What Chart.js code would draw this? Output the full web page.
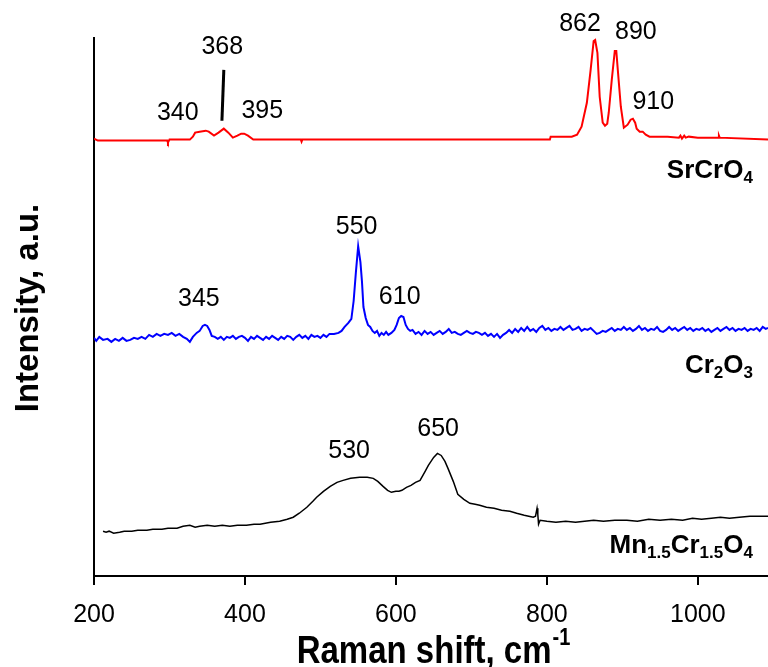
<!DOCTYPE html>
<html>
<head>
<meta charset="utf-8">
<script src="https://cdn.jsdelivr.net/npm/chart.js@4.4.0/dist/chart.umd.min.js"></script>
<style>
  body { margin: 0; background: #fff; }
  #wrap { width: 768px; height: 667px; }
</style>
</head>
<body>
<div id="wrap"><canvas id="ramanChart"></canvas></div>
<script>
// x = Raman shift (cm-1), y = intensity, a.u. (offset spectra)
var srX = [200, 205, 260, 297, 298, 300, 327, 331, 334, 340, 348, 352, 359, 365, 372, 378, 384, 390, 395, 399, 404, 411, 474, 475, 476, 560, 700, 804, 805, 833, 840, 846, 853, 858, 862, 864, 867, 870, 874, 877, 880, 882, 886, 890, 892, 894, 898, 902, 907, 911, 914, 917, 919, 923, 927, 931, 936, 960, 975, 977, 979, 982, 984, 988, 1000, 1027, 1028, 1029, 1093];
var srY = [439, 437, 437, 437, 435, 438, 438, 441, 445, 446, 447, 446, 442, 445, 449, 445, 440, 442, 444, 444, 442, 438, 438, 436, 438, 438, 438, 438, 441, 441, 443, 451, 475, 508, 537, 538, 525, 481, 455, 452, 454, 465, 498, 527, 527, 508, 471, 450, 453, 458, 459, 455, 449, 446, 446, 443, 441, 441, 440, 442, 439, 442, 440, 441, 440, 440, 442, 440, 438];

var crX = [200, 203, 207, 212, 218, 223, 228, 233, 238, 243, 248, 253, 258, 263, 268, 273, 278, 283, 288, 293, 298, 303, 308, 313, 318, 323, 327, 331, 336, 340, 344, 347, 350, 353, 356, 360, 364, 368, 372, 376, 380, 384, 388, 392, 396, 400, 404, 408, 412, 416, 420, 424, 428, 432, 436, 440, 444, 448, 452, 456, 460, 464, 468, 472, 476, 480, 484, 488, 492, 496, 500, 504, 508, 512, 518, 524, 528, 532, 537, 541, 544, 547, 550, 553, 555, 557, 560, 563, 566, 569, 572, 575, 578, 581, 584, 587, 590, 594, 598, 601, 604, 607, 610, 613, 616, 619, 622, 626, 630, 634, 638, 642, 646, 650, 654, 658, 662, 666, 670, 674, 678, 682, 686, 690, 694, 698, 702, 706, 710, 714, 718, 722, 726, 730, 734, 738, 742, 746, 750, 754, 758, 762, 766, 770, 774, 778, 782, 786, 790, 794, 798, 802, 806, 810, 814, 818, 822, 826, 830, 834, 838, 842, 846, 850, 854, 858, 862, 866, 870, 874, 878, 882, 886, 890, 894, 898, 902, 906, 910, 914, 918, 922, 926, 930, 934, 938, 942, 946, 950, 954, 958, 962, 966, 970, 974, 978, 982, 986, 990, 994, 998, 1002, 1006, 1010, 1014, 1018, 1022, 1026, 1030, 1034, 1038, 1042, 1046, 1050, 1054, 1058, 1062, 1066, 1070, 1074, 1078, 1082, 1086, 1090, 1093];
var crY = [239, 236, 240, 237, 238, 235, 238, 236, 239, 236, 237, 239, 238, 240, 238, 242, 240, 243, 241, 243, 242, 244, 241, 243, 240, 238, 235, 240, 244, 246, 251, 252, 251, 247, 241, 240, 238, 240, 237, 240, 239, 241, 238, 240, 241, 239, 236, 240, 238, 241, 239, 237, 240, 238, 241, 239, 237, 240, 238, 241, 240, 237, 240, 242, 239, 241, 238, 242, 240, 241, 239, 242, 240, 243, 243, 244, 246, 250, 254, 258, 276, 305, 331, 315, 296, 270, 259, 252, 250, 246, 244, 246, 241, 244, 242, 245, 242, 244, 247, 252, 259, 261, 260, 252, 248, 246, 247, 243, 245, 242, 246, 243, 245, 242, 244, 246, 243, 245, 248, 244, 245, 243, 242, 244, 246, 244, 243, 245, 244, 242, 244, 241, 243, 240, 243, 239, 242, 244, 247, 244, 248, 245, 249, 246, 250, 246, 248, 245, 249, 251, 247, 249, 246, 248, 247, 250, 247, 249, 251, 247, 248, 250, 246, 248, 247, 249, 246, 243, 244, 246, 245, 247, 249, 246, 248, 247, 250, 247, 249, 246, 248, 251, 247, 249, 246, 248, 247, 250, 246, 245, 247, 250, 247, 249, 246, 248, 250, 247, 249, 246, 248, 247, 249, 246, 248, 245, 247, 249, 246, 248, 250, 247, 249, 246, 248, 247, 249, 246, 248, 247, 249, 246, 250, 248, 249];

var mnX = [212, 216, 220, 226, 234, 240, 250, 258, 270, 278, 290, 298, 310, 318, 327, 334, 340, 350, 360, 370, 380, 390, 402, 412, 420, 434, 446, 456, 464, 472, 482, 490, 495, 504, 513, 522, 530, 540, 552, 562, 570, 576, 583, 589, 594, 600, 604, 608, 614, 620, 626, 632, 638, 643, 650, 655, 660, 665, 669, 676, 682, 690, 698, 705, 711, 720, 730, 740, 751, 760, 770, 776, 782, 785, 787, 788, 789, 791, 800, 812, 825, 838, 850, 862, 875, 890, 906, 920, 935, 950, 965, 980, 993, 1005, 1018, 1030, 1042, 1055, 1069, 1093];
var mnY = [45, 44, 45, 43, 44, 45, 45, 46, 46, 47, 47, 48, 48, 50, 51, 49, 50, 51, 50, 51, 50, 51, 51, 52, 52, 54, 55, 57, 59, 63, 69, 75, 79, 85, 90, 94, 96, 98, 99, 99, 98, 95, 90, 86, 84, 85, 85, 86, 89, 91, 94, 96, 104, 111, 119, 123, 121, 115, 108, 95, 82, 77, 73, 72, 71, 69, 68, 66, 65, 63, 61, 60, 59, 60, 68, 62, 52, 56, 55, 54, 55, 54, 55, 56, 55, 56, 56, 55, 57, 56, 57, 56, 58, 57, 58, 59, 58, 59, 60, 60];

// peak annotations
var peakText = ['340', '368', '395', '862', '890', '910', '345', '550', '610', '530', '650'];
var peakAtX = [311, 370, 423, 844, 918, 941, 339, 548, 605, 538, 656];
var peakAtY = [465, 531, 467, 554, 546, 476, 278, 350, 280, 125, 147];

var xTicks = [200, 400, 600, 800, 1000];

function toPoints(xs, ys) {
    return xs.map(function (x, i) { return { x: x, y: ys[i] }; });
}

var FONT = '"Liberation Sans", Arial, sans-serif';

function drawFormula(ctx, parts, xRight, yBase) {
    var big = 'bold 26px ' + FONT, small = 'bold 17px ' + FONT;
    var total = 0;
    parts.forEach(function (p) {
        ctx.font = p[1] ? small : big;
        total += ctx.measureText(p[0]).width;
    });
    var x = xRight - total;
    ctx.textAlign = 'left';
    ctx.textBaseline = 'alphabetic';
    parts.forEach(function (p) {
        ctx.font = p[1] ? small : big;
        ctx.fillText(p[0], x, yBase + (p[1] ? 5 : 0));
        x += ctx.measureText(p[0]).width;
    });
}

var labelsPlugin = {
    id: 'ramanLabels',
    afterDraw: function (chart) {
        var ctx = chart.ctx, xs = chart.scales.x, ys = chart.scales.y;
        ctx.save();
        ctx.fillStyle = '#000';

        // peak positions
        ctx.font = '25px ' + FONT;
        ctx.textAlign = 'center';
        ctx.textBaseline = 'middle';
        peakText.forEach(function (t, i) {
            ctx.fillText(t, xs.getPixelForValue(peakAtX[i]), ys.getPixelForValue(peakAtY[i]));
        });

        // marker for the 368 band
        ctx.strokeStyle = '#000';
        ctx.lineWidth = 3;
        ctx.beginPath();
        ctx.moveTo(xs.getPixelForValue(372), ys.getPixelForValue(508));
        ctx.lineTo(xs.getPixelForValue(369.5), ys.getPixelForValue(457));
        ctx.stroke();

        // sample names
        var right = xs.getPixelForValue(1073);
        drawFormula(ctx, [['SrCrO', 0], ['4', 1]], right, ys.getPixelForValue(399));
        drawFormula(ctx, [['Cr', 0], ['2', 1], ['O', 0], ['3', 1]], right, ys.getPixelForValue(204));
        drawFormula(ctx, [['Mn', 0], ['1.5', 1], ['Cr', 0], ['1.5', 1], ['O', 0], ['4', 1]], right, ys.getPixelForValue(23));

        // y title
        ctx.save();
        ctx.translate(38, 308);
        ctx.rotate(-Math.PI / 2);
        ctx.font = 'bold 33px ' + FONT;
        ctx.textAlign = 'center';
        ctx.textBaseline = 'alphabetic';
        ctx.fillText('Intensity, a.u.', 0, 0);
        ctx.restore();

        // x title with superscript
        ctx.save();
        var main = 'Raman shift, cm', sup = '-1';
        ctx.font = 'bold 33px ' + FONT;
        var w1 = ctx.measureText(main).width;
        ctx.font = 'bold 20px ' + FONT;
        var w2 = ctx.measureText(sup).width;
        var cx = (chart.chartArea.left + chart.chartArea.right) / 2 + 2;
        ctx.translate(cx - (w1 + w2) / 2, 663);
        ctx.scale(1, 1.2);
        ctx.textAlign = 'left';
        ctx.textBaseline = 'alphabetic';
        ctx.font = 'bold 33px ' + FONT;
        ctx.fillText(main, 0, 0);
        ctx.font = 'bold 20px ' + FONT;
        ctx.fillText(sup, w1 + 1, -15);
        ctx.restore();

        ctx.restore();
    }
};

var ctx = document.getElementById('ramanChart').getContext('2d');
var ramanChart = new Chart(ctx, {
    type: 'line',
    data: {
        datasets: [{
            label: 'SrCrO4',
            data: toPoints(srX, srY),
            borderColor: '#ff0000',
            borderWidth: 2
        }, {
            label: 'Cr2O3',
            data: toPoints(crX, crY),
            borderColor: '#0000ff',
            borderWidth: 2
        }, {
            label: 'Mn1.5Cr1.5O4',
            data: toPoints(mnX, mnY),
            borderColor: '#000000',
            borderWidth: 1.5
        }]
    },
    options: {
        responsive: true,
        maintainAspectRatio: false,
        animation: false,
        elements: {
            point: { radius: 0 },
            line: { tension: 0 }
        },
        layout: {
            padding: { top: 38, left: 86, right: 0, bottom: 22 }
        },
        plugins: {
            legend: { display: false },
            tooltip: { enabled: false }
        },
        scales: {
            x: {
                type: 'linear',
                min: 200,
                max: 1093,
                afterBuildTicks: function (axis) {
                    axis.ticks = xTicks.map(function (v) { return { value: v }; });
                },
                ticks: {
                    color: '#000',
                    font: { size: 25, family: FONT },
                    padding: 15,
                    maxRotation: 0,
                    callback: function (v) { return String(v); }
                },
                grid: {
                    drawOnChartArea: false,
                    color: '#000',
                    lineWidth: 2,
                    tickLength: 9
                },
                border: { color: '#000', width: 2 }
            },
            y: {
                min: 0,
                max: 540,
                ticks: { display: false },
                grid: { display: false },
                border: { color: '#000', width: 2 }
            }
        }
    },
    plugins: [labelsPlugin]
});
</script>
</body>
</html>
